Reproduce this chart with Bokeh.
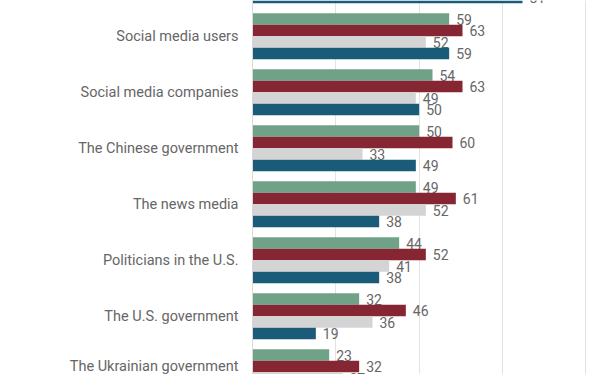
from bokeh.plotting import figure
from bokeh.models import Range1d, FixedTicker, ColumnDataSource
from bokeh.core.properties import value
from bokeh.embed import file_html
from bokeh.resources import INLINE

nan = float("nan")
categories = ["The Russian government", "Social media users", "Social media companies",
              "The Chinese government", "The news media", "Politicians in the U.S.",
              "The U.S. government", "The Ukrainian government"]
series_green = [nan, 59, 54, 50, 49, 44, 32, 23]
series_red = [nan, 63, 63, 60, 61, 52, 46, 32]
series_grey = [nan, 52, 49, 33, 52, 41, 36, 27]
series_blue = [81, 59, 50, 49, 38, 38, 19, nan]

colors = ["#6fa287", "#862633", "#d4d4d4", "#1a5b7a"]
offsets = [-0.308, -0.1027, 0.1027, 0.308]
bar_h = 0.2054

p = figure(width=612, height=374, output_backend="svg", toolbar_location=None,
           x_axis_location=None, x_range=Range1d(0, 108),
           y_range=Range1d(start=7.0402, end=0.3616),
           min_border_left=252, min_border_right=0, min_border_top=0, min_border_bottom=0)
p.outline_line_color = None
p.background_fill_color = "white"

idx = list(range(len(categories)))
for vals, col, off in zip([series_green, series_red, series_grey, series_blue], colors, offsets):
    src = ColumnDataSource(dict(y=[i + off for i in idx], x=vals,
                                lab=[("" if v != v else str(int(v))) for v in vals]))
    p.hbar(y="y", left=0, right="x", height=bar_h, fill_color=col, line_color=None, source=src)
    p.text(x="x", y="y", text="lab", source=src, x_offset=7, text_align="left",
           text_baseline="middle", text_font=value("Roboto"), text_font_size="14px",
           text_color="#666666")

p.xgrid.ticker = FixedTicker(ticks=[25, 50, 75, 100])
p.xgrid.grid_line_color = "#e3e3e3"
p.xgrid.grid_line_width = 1
p.ygrid.grid_line_color = None

ax = p.yaxis[0]
ax.ticker = FixedTicker(ticks=idx)
ax.major_label_overrides = {i: c for i, c in zip(idx, categories)}
ax.axis_line_color = "#d9d9d9"
ax.major_tick_line_color = None
ax.minor_tick_line_color = None
ax.major_tick_out = 0
ax.major_tick_in = 0
ax.major_label_standoff = 14
ax.major_label_text_font = "Roboto"
ax.major_label_text_font_size = "14.5px"
ax.major_label_text_color = "#666666"

open("out.html", "w").write(file_html(p, INLINE))
